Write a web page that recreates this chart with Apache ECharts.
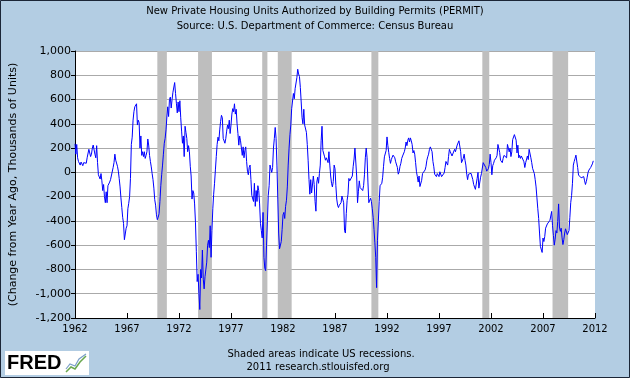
<!DOCTYPE html>
<html><head><meta charset="utf-8">
<script src="https://cdn.jsdelivr.net/npm/echarts@6/dist/echarts.min.js"></script>
<style>html,body{margin:0;padding:0;background:#b3cde3}#c{width:630px;height:378px}</style>
</head><body><div id="c"></div>
<script>
// Monthly change from year ago (thousands of units), starting Jan of the first year listed
const v1960s = [
 235,150,230,120,90,100,60,85,95,55,80,75,
 80,75,120,110,190,205,130,150,200,225,210,150,
 120,220,80,-20,-35,-55,-10,-70,-150,-100,-200,-250,
 -160,-250,-110,-100,-80,-60,-55,-45,40,80,150,100,
 90,50,10,-50,-120,-210,-290,-370,-420,-555,-570,-460,
 -440,-300,-255,-200,-50,230,290,430,500,540,550,565,
 390,430,410,200,300,140,170,130,170,115,140,170,
 275,225,140,90,45,-10,-60,-130,-225,-270,-350,-390];
const v1970s = [
 -370,-340,-240,-110,-20,60,150,240,280,350,456,540,
 460,600,620,530,600,660,675,740,650,570,490,580,
 500,590,450,340,240,300,130,380,330,280,170,220,
 170,50,-30,-220,-150,-170,-260,-410,-650,-900,-840,-1000,
 -1130,-800,-870,-640,-880,-960,-860,-860,-740,-600,-560,-620,
 -440,-700,-480,-300,-180,-90,20,130,230,290,260,350,
 420,470,450,280,270,240,280,340,390,360,430,320,
 390,480,525,500,565,480,520,400,320,224,300,260,
 250,140,210,120,180,210,90,10,-20,40,60,-60,
 -190,-200,-240,-90,-280,-150,-240,-110,-150,-260,-420,-480];
const v1980s = [
 -540,-330,-700,-790,-810,-600,-400,-190,-110,60,60,0,
 40,200,280,370,280,60,-220,-500,-630,-636,-570,-470,
 -350,-330,-380,-280,-230,-120,60,200,310,390,524,540,
 650,606,690,680,780,850,811,790,700,580,450,400,
 520,390,400,330,230,100,-60,-180,-60,-170,-104,-30,
 -100,-240,-320,-80,-40,-90,-10,60,260,380,180,190,
 128,100,120,110,80,170,60,-30,-90,-120,-76,60,
 30,-110,-220,-270,-290,-270,-280,-250,-195,-190,-250,-480,
 -500,-340,-230,-180,-50,-70,-60,-70,-30,50,110,200,
 200,-30,-250,-160,-70,-125,-120,-130,-150,-110,-20,120];
const v1990s = [
 200,120,-80,-250,-240,-213,-240,-300,-370,-470,-580,-700,
 -950,-560,-404,-240,-110,-100,-90,-40,50,128,115,180,
 292,220,165,115,74,105,125,142,137,120,87,80,
 40,-15,5,50,75,115,135,140,170,200,250,220,
 265,284,250,284,260,230,160,180,150,80,5,-35,
 -80,-30,-117,-110,-65,-10,5,5,20,50,100,128,
 150,190,210,200,170,90,46,-15,-25,-35,-10,0,
 -35,5,0,-35,-35,-20,-5,40,90,95,60,130,
 190,170,180,135,145,142,190,170,175,225,220,260,
 270,170,80,90,115,150,100,60,-15,-60,-15,-20];
const v2000s = [
 -16,-8,-20,-60,-100,-90,-140,-130,-50,0,-130,-140,
 -40,-10,5,80,90,87,40,10,-5,30,65,150,
 80,-20,55,74,100,95,120,140,230,215,165,100,
 110,80,115,140,130,150,120,230,200,169,200,130,
 169,270,260,311,320,265,160,224,120,140,115,135,
 140,125,87,40,80,74,135,105,190,200,120,80,
 33,40,-10,-60,-120,-210,-300,-380,-500,-610,-595,-660,
 -541,-570,-530,-460,-470,-425,-410,-418,-395,-390,-322,-440,
 -520,-600,-550,-480,-500,-404,-260,-450,-486,-460,-540,-595,
 -554,-500,-465,-450,-513,-520,-480,-370,-250,-190,-90,60];
const v2010s = [
 90,115,142,150,40,-22,-35,-25,-45,-35,-35,-35,
 -70,-100,-76,-40,0,19,19,40,33,70,95];
const firstYear = 1962;
// US recessions (peak month, trough month)
const recessionStarts = ['1969-12','1973-11','1980-01','1981-07','1990-07','2001-03','2007-12'];
const recessionEnds   = ['1970-11','1975-03','1980-07','1982-11','1991-03','2001-11','2009-06'];
const xTicks = [1962,1967,1972,1977,1982,1987,1992,1997,2002,2007,2012];

const allValues = [].concat(v1960s, v1970s, v1980s, v1990s, v2000s, v2010s);
const seriesData = allValues.map((v, i) => [firstYear + i / 12, v]);
const toDec = s => { const p = s.split('-'); return +p[0] + (+p[1] - 1) / 12; };
const areas = recessionStarts.map((s, i) => [{xAxis: toDec(s)}, {xAxis: toDec(recessionEnds[i])}]);

const chart = echarts.init(document.getElementById('c'), null, {renderer: 'canvas'});
const F = 'DejaVu Sans';
chart.setOption({
  backgroundColor: '#b3cde3',
  animation: false,
  grid: {left: 74, right: 35, top: 51, bottom: 60, show: true, backgroundColor: '#ffffff', borderWidth: 0},
  xAxis: {
    type: 'value', min: xTicks[0], max: xTicks[xTicks.length - 1], interval: 5,
    axisLine: {onZero: false, lineStyle: {color: '#000', width: 1}},
    axisTick: {inside: true, length: 5, lineStyle: {color: '#000'}},
    axisLabel: {fontFamily: F, fontSize: 10, color: '#000', margin: 6, formatter: v => String(v)},
    splitLine: {show: false}
  },
  yAxis: {
    type: 'value', min: -1200, max: 1000, interval: 200,
    name: '(Change from Year Ago, Thousands of Units)', nameLocation: 'middle', nameGap: 56,
    nameTextStyle: {fontFamily: F, fontSize: 11, color: '#000'},
    axisLine: {show: true, onZero: false, lineStyle: {color: '#000', width: 1}},
    axisTick: {show: true, length: 4, lineStyle: {color: '#000'}},
    axisLabel: {fontFamily: F, fontSize: 11, color: '#000', margin: 4,
      formatter: v => v.toLocaleString('en-US')},
    splitLine: {lineStyle: {color: '#aaaaaa', width: 1}}
  },
  series: [
    {type: 'line', data: [], z: 1, silent: true,
     markArea: {silent: true, itemStyle: {color: '#bebebe', opacity: 1}, data: areas}},
    {type: 'line', data: seriesData, showSymbol: false, symbol: 'none',
     lineStyle: {color: '#0000ff', width: 1}, z: 5}
  ],
  graphic: [
    {type: 'text', left: 'center', top: 6, style: {text: 'New Private Housing Units Authorized by Building Permits (PERMIT)', font: '10px "DejaVu Sans"', fill: '#000'}},
    {type: 'text', left: 'center', top: 21, style: {text: 'Source: U.S. Department of Commerce: Census Bureau', font: '10px "DejaVu Sans"', fill: '#000'}},
    {type: 'text', x: 321, y: 349, style: {text: 'Shaded areas indicate US recessions.', font: '10px "DejaVu Sans"', fill: '#000', align: 'center'}},
    {type: 'text', x: 318, y: 362, style: {text: '2011 research.stlouisfed.org', font: '10px "DejaVu Sans"', fill: '#000', align: 'center'}},
    {type: 'rect', shape: {x: 5, y: 351, width: 84, height: 24}, style: {fill: '#ffffff'}},
    {type: 'text', x: 7, y: 353, style: {text: 'FRED', font: 'bold 20px "Liberation Sans"', fill: '#000'}},
    {type: 'polyline', shape: {points: [[66,372],[71,367],[75,369],[80,362],[86,356]]}, style: {stroke: '#6aa84f', lineWidth: 1.5, fill: null}},
    {type: 'polyline', shape: {points: [[66,369],[70,364],[75,366],[79,359],[86,354]]}, style: {stroke: '#7b9fc8', lineWidth: 1.2, fill: null}},
    {type: 'rect', shape: {x: 0.5, y: 0.5, width: 629, height: 377}, style: {fill: null, stroke: '#1b2536', lineWidth: 1}}
  ]
});
</script></body></html>
